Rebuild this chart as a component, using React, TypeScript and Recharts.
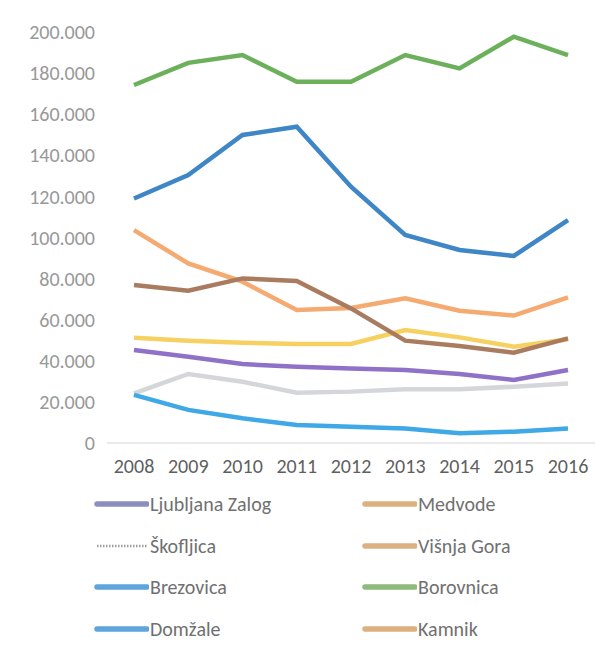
import React from 'react';
import { LineChart, Line, XAxis, YAxis } from 'recharts';

const years = ['2008', '2009', '2010', '2011', '2012', '2013', '2014', '2015', '2016'];

const ljubljanaZalog = [45300, 42000, 38400, 37100, 36300, 35500, 33600, 30700, 35500];
const medvode = [103600, 87400, 78500, 64700, 65700, 70400, 64400, 62000, 70900];
const skofljica = [24200, 33600, 29800, 24500, 25000, 26100, 26100, 27400, 29000];
const visnjaGora = [51200, 49800, 48800, 48200, 48200, 55000, 51400, 46900, 50500];
const brezovica = [119000, 130400, 149900, 153900, 124700, 101200, 93900, 91000, 108500];
const borovnica = [174200, 185000, 188800, 175800, 175800, 188800, 182300, 197700, 188800];
const domzale = [23400, 16100, 12000, 8800, 7900, 7100, 4700, 5500, 7100];
const kamnik = [76900, 74100, 80100, 78800, 65500, 49800, 47200, 43900, 50900];

const yTicks = [0, 20000, 40000, 60000, 80000, 100000, 120000, 140000, 160000, 180000, 200000];

// line colours (as drawn in the plot)
const series = [
  { key: 'skofljica', values: skofljica, color: '#d4d6d9' },
  { key: 'domzale', values: domzale, color: '#3fa8e6' },
  { key: 'ljubljanaZalog', values: ljubljanaZalog, color: '#8f72c8' },
  { key: 'visnjaGora', values: visnjaGora, color: '#f6d060' },
  { key: 'medvode', values: medvode, color: '#f4aa70' },
  { key: 'kamnik', values: kamnik, color: '#a97c60' },
  { key: 'brezovica', values: brezovica, color: '#3f86c6' },
  { key: 'borovnica', values: borovnica, color: '#6cb05c' },
];

// legend as printed (two columns, row-major)
const legendItems = [
  { name: 'Ljubljana Zalog', color: '#8b8fc0', dotted: false },
  { name: 'Medvode', color: '#ddb07f', dotted: false },
  { name: 'Škofljica', color: '#9c9c9c', dotted: true },
  { name: 'Višnja Gora', color: '#ddb07f', dotted: false },
  { name: 'Brezovica', color: '#5ea4dd', dotted: false },
  { name: 'Borovnica', color: '#8dbb7a', dotted: false },
  { name: 'Domžale', color: '#5ea4dd', dotted: false },
  { name: 'Kamnik', color: '#ddb07f', dotted: false },
];

const data = years.map((year, i) => {
  const row: Record<string, string | number> = { year };
  series.forEach(s => { row[s.key] = s.values[i]; });
  return row;
});

const fmt = (v: number) => String(v).replace(/\B(?=(\d{3})+(?!\d))/g, '.');

const font = 'Carlito, "Open Sans", "Liberation Sans", sans-serif';

export default function App() {
  return (
    <div style={{ position: 'absolute', left: 0, top: 0, width: 614, height: 660, background: '#fff', fontFamily: font }}>
      <LineChart width={614} height={490} data={data} margin={{ top: 32, right: 19, bottom: 0, left: 0 }}>
        <XAxis
          dataKey="year"
          height={47}
          padding={{ left: 27, right: 27 }}
          stroke="#e3e3e3"
          strokeWidth={1.5}
          tickLine={false}
          tickSize={0}
          tickMargin={16}
          tick={{ fill: '#5f5f5f', fontSize: 20, fontFamily: font }}
        />
        <YAxis
          width={107}
          domain={[0, 200000]}
          ticks={yTicks}
          axisLine={false}
          tickLine={false}
          tickSize={0}
          tickMargin={12}
          tickFormatter={fmt}
          tick={{ fill: '#989898', fontSize: 20, fontFamily: font }}
        />
        {series.map(s => (
          <Line
            key={s.key}
            dataKey={s.key}
            stroke={s.color}
            strokeWidth={4.5}
            dot={false}
            type="linear"
            isAnimationActive={false}
          />
        ))}
      </LineChart>
      <div style={{ position: 'absolute', left: 94, top: 492, display: 'grid', gridTemplateColumns: '268px 200px', rowGap: 17 }}>
        {legendItems.map(item => (
          <div key={item.name} style={{ display: 'flex', alignItems: 'center', height: 24.5, fontSize: 20, color: '#707070' }}>
            <svg width={55} height={8} style={{ marginRight: 1 }}>
              <line
                x1={3}
                y1={4}
                x2={53}
                y2={4}
                stroke={item.color}
                strokeWidth={item.dotted ? 2.5 : 5.5}
                strokeLinecap={item.dotted ? 'butt' : 'round'}
                strokeDasharray={item.dotted ? '1.5 1.5' : undefined}
              />
            </svg>
            <span>{item.name}</span>
          </div>
        ))}
      </div>
    </div>
  );
}
